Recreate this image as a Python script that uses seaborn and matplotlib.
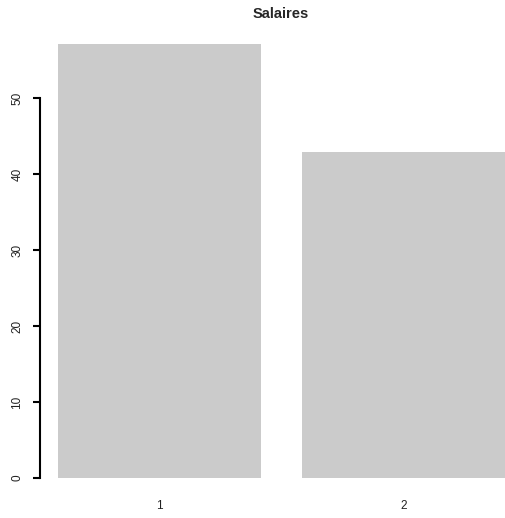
import matplotlib
matplotlib.use("Agg")
import matplotlib.pyplot as plt
import seaborn as sns
import pandas as pd

categories = ["1", "2"]
values = [57.14, 42.86]
yticks = [0, 10, 20, 30, 40, 50]
title = "Salaires"

sns.set_style("white")
plt.rcParams['font.family'] = ['Liberation Sans', 'DejaVu Sans']

W, H = 506, 518
fig = plt.figure(figsize=(W / 100, H / 100), dpi=100)
ax = fig.add_axes([40 / W, (H - 495.4) / H, 483 / W, (495.4 - 26.3) / H])

df = pd.DataFrame({"cat": categories, "val": values})
sns.barplot(data=df, x="cat", y="val", color="#cbcbcb", width=1 / 1.2,
            saturation=1, ax=ax, edgecolor="none")

ax.set_xlim(-0.49, 1.49)
ax.set_ylim(-2.286, 59.43)
ax.set_xlabel("")
ax.set_ylabel("")
for s in ["top", "right", "bottom"]:
    ax.spines[s].set_visible(False)
ax.spines["left"].set_bounds(0, 50)
ax.spines["left"].set_linewidth(1.5)
ax.spines["left"].set_color("black")
ax.set_yticks(yticks)
ax.set_yticklabels([str(t) for t in yticks], rotation=90, va="center")
ax.tick_params(axis="y", direction="out", length=5, width=1.5, pad=7,
               labelsize=8.5, colors="black", labelcolor="#222222", left=True)
ax.tick_params(axis="x", length=0, pad=3.5, labelsize=8.5, labelcolor="#222222")

fig.text(281 / W, 1 - 14 / H, title, ha="center", va="center",
         fontsize=10.5, fontweight="bold")

fig.savefig("out.png", dpi=100)
